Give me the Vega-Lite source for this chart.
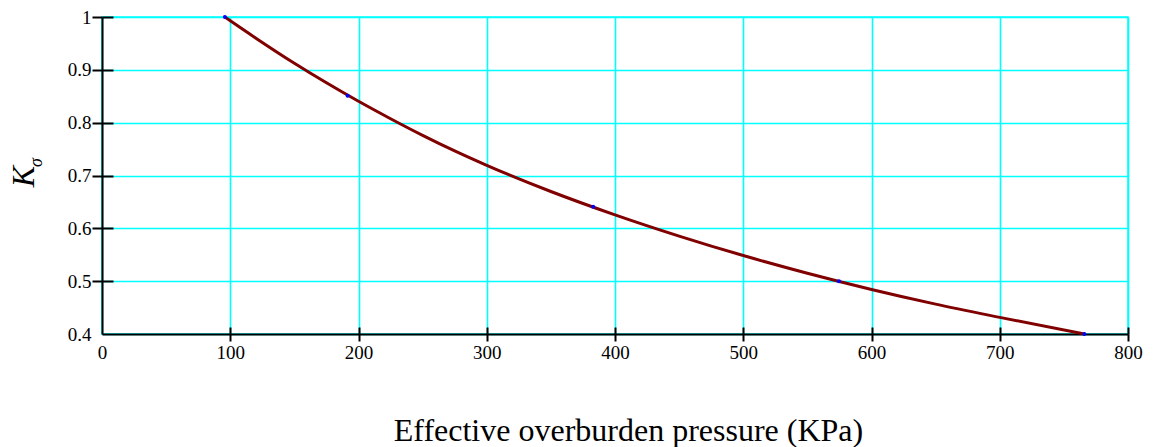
{
  "$schema": "https://vega.github.io/schema/vega-lite/v6.json",
  "width": 1026,
  "height": 317,
  "autosize": {"type": "none"},
  "padding": {"left": 102, "top": 17, "right": 26, "bottom": 113},
  "background": "white",
  "config": {
    "view": {"stroke": "#00FFFF", "strokeWidth": 1.5},
    "axis": {
      "labelFont": "Liberation Serif",
      "labelFontSize": 19,
      "labelColor": "black",
      "titleFont": "Liberation Serif",
      "titleColor": "black",
      "titleFontWeight": "normal",
      "domainColor": "black",
      "domainWidth": 2,
      "tickColor": "black",
      "tickWidth": 2,
      "gridColor": "#00FFFF",
      "gridOpacity": 1,
      "labelFlush": false,
      "labelOverlap": false,
      "labelBound": false
    }
  },
  "datasets": {
    "curve": [
      {"p": 95.8, "k": 1.0},
      {"p": 120, "k": 0.96},
      {"p": 150, "k": 0.9125},
      {"p": 175, "k": 0.8755},
      {"p": 200, "k": 0.8405},
      {"p": 225, "k": 0.8075},
      {"p": 250, "k": 0.776},
      {"p": 275, "k": 0.7465},
      {"p": 300, "k": 0.7192},
      {"p": 350, "k": 0.6697},
      {"p": 400, "k": 0.6255},
      {"p": 450, "k": 0.5853},
      {"p": 500, "k": 0.5485},
      {"p": 550, "k": 0.515},
      {"p": 600, "k": 0.4843},
      {"p": 650, "k": 0.4565},
      {"p": 700, "k": 0.4315},
      {"p": 766, "k": 0.4}
    ],
    "markers": [
      {"p": 95.8, "k": 1.0},
      {"p": 191.5, "k": 0.851},
      {"p": 383, "k": 0.641},
      {"p": 574.6, "k": 0.5},
      {"p": 766, "k": 0.4}
    ]
  },
  "resolve": {"axis": {"x": "independent", "y": "independent"}},
  "layer": [
    {
      "data": {"name": "curve"},
      "mark": {"type": "line", "color": "#800000", "strokeWidth": 3, "interpolate": "monotone"},
      "encoding": {
        "x": {
          "field": "p",
          "type": "quantitative",
          "scale": {"domain": [0, 800], "nice": false, "zero": false},
          "axis": {
            "orient": "bottom",
            "values": [0, 100, 200, 300, 400, 500, 600, 700, 800],
            "format": "d",
            "grid": true,
            "gridWidth": 1.6,
            "tickSize": 7,
            "tickOpacity": {"condition": {"test": "datum.value == 0", "value": 0}, "value": 1},
            "labelPadding": 2,
            "title": "Effective overburden pressure (KPa)",
            "titleFontSize": 32,
            "titleX": 526,
            "titleY": 106,
            "titleAlign": "center",
            "titleBaseline": "alphabetic"
          }
        },
        "y": {
          "field": "k",
          "type": "quantitative",
          "scale": {"domain": [0.4, 1], "nice": false, "zero": false},
          "axis": {
            "orient": "left",
            "values": [0.4, 0.5, 0.6, 0.7, 0.8, 0.9, 1],
            "format": ".1~f",
            "grid": true,
            "gridWidth": 1.3,
            "tickSize": 10,
            "tickOpacity": {"condition": {"test": "datum.value < 0.45", "value": 0}, "value": 1},
            "labelPadding": 1,
            "title": "K",
            "titleFontSize": 32,
            "titleFontStyle": "italic",
            "titleAngle": 270,
            "titleX": -69,
            "titleY": 159,
            "titleAlign": "center",
            "titleBaseline": "alphabetic"
          }
        }
      }
    },
    {
      "data": {"name": "markers"},
      "mark": {"type": "point", "shape": "circle", "filled": true, "color": "#0000FF", "size": 16, "opacity": 1},
      "encoding": {
        "x": {
          "field": "p",
          "type": "quantitative",
          "axis": {
            "orient": "bottom",
            "values": [100, 200, 300, 400, 500, 600, 700, 800],
            "domain": false,
            "labels": false,
            "grid": false,
            "tickSize": -7,
            "title": null
          }
        },
        "y": {
          "field": "k",
          "type": "quantitative",
          "axis": {
            "orient": "left",
            "values": [0.5, 0.6, 0.7, 0.8, 0.9, 1],
            "domain": false,
            "labels": false,
            "grid": false,
            "tickSize": -11,
            "title": "σ",
            "titleFontSize": 18,
            "titleFontStyle": "italic",
            "titleAngle": 270,
            "titleX": -61,
            "titleY": 145,
            "titleAlign": "center",
            "titleBaseline": "alphabetic"
          }
        }
      }
    }
  ]
}
